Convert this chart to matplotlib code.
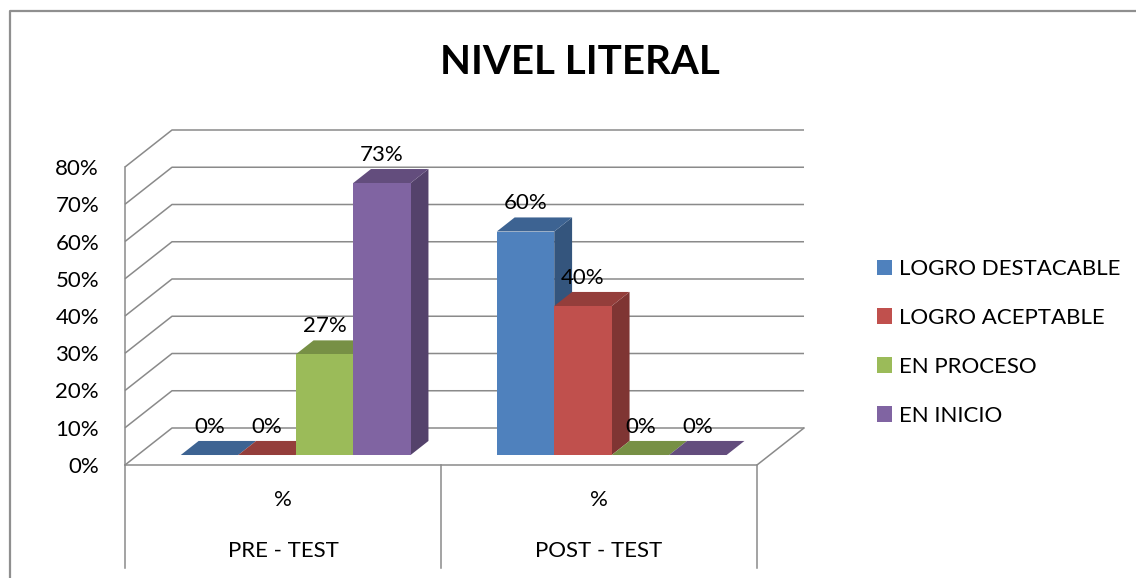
#NIVEL LITERAL - pre/post test, 3D-style clustered columns (Excel look)
import numpy as np
import matplotlib as mpl
mpl.use("Agg")
import matplotlib.pyplot as plt
from matplotlib.patches import Polygon, Patch
from matplotlib.lines import Line2D
from matplotlib.colors import to_rgb

# data
categories = ["PRE - TEST", "POST - TEST"]
sub_label = "%"
series = ["LOGRO DESTACABLE", "LOGRO ACEPTABLE", "EN PROCESO", "EN INICIO"]
pre_test = [0.00, 0.00, 0.27, 0.73]
post_test = [0.60, 0.40, 0.00, 0.00]
yticks = [0.0, 0.1, 0.2, 0.3, 0.4, 0.5, 0.6, 0.7, 0.8]
title = "NIVEL LITERAL"

colors = ['#4F81BD', '#C0504D', '#9BBB59', '#8064A2']

plt.rcParams['font.family'] = ['Lato', 'DejaVu Sans']
fs = 16

W, H = 1136, 578
fig = plt.figure(figsize=(W/100, H/100), dpi=100)
ax = fig.add_axes([0, 0, 1, 1])
ax.set_axis_off()

# front plane: category centre 0 -> px 283, 1 category = 316 px ; value 0 -> py 465, 1.0 = 372.5 px
cat_px, val_px = 316.0, 372.5
x0_px, y0_px = 283.0, 465.0
ax.set_xlim(-x0_px/cat_px, (W - x0_px)/cat_px)
ax.set_ylim(-(H - y0_px)/val_px, y0_px/val_px)

# oblique depth offset (full depth = back wall)
DX = 47.0/cat_px
DY = 37.0/val_px
def proj(x, v, d):
    return (x + d*DX, v + d*DY)

def shade(c, f):
    r, g, b = to_rgb(c)
    return (r*f, g*f, b*f)

grid_c = '#8a8a8a'
lw = 1.1
xl, xr = -0.5, 1.5
vmax = yticks[-1]

# walls / gridlines
for v in yticks:
    pts = [proj(xl, v, 0), proj(xl, v, 1), proj(xr, v, 1)]
    ax.plot(*zip(*pts), color=grid_c, lw=lw, zorder=1, solid_capstyle='butt')
ax.plot(*zip(proj(xl, 0, 0), proj(xl, vmax, 0)), color=grid_c, lw=lw, zorder=1)
# floor
ax.plot(*zip(proj(xl, 0, 0), proj(xr, 0, 0), proj(xr, 0, 1)), color=grid_c, lw=lw, zorder=1)

# category table below floor
tbl_bottom = -(568 - y0_px)/val_px
for xb in [xl, 0.5, xr]:
    ax.plot([xb, xb], [0, tbl_bottom], color=grid_c, lw=lw, zorder=1)

# bars
n = len(series)
bw = 1/5.5
d0, d1 = 0.27, 0.65
for g, vals in enumerate([pre_test, post_test]):
    for i, v in enumerate(vals):
        a = g - n*bw/2 + i*bw
        b = a + bw
        c = colors[i]
        z = 2 + g*10 + i
        side = [proj(b, 0, d0), proj(b, 0, d1), proj(b, v, d1), proj(b, v, d0)]
        top = [proj(a, v, d0), proj(b, v, d0), proj(b, v, d1), proj(a, v, d1)]
        front = [proj(a, 0, d0), proj(b, 0, d0), proj(b, v, d0), proj(a, v, d0)]
        ax.add_patch(Polygon(side, closed=True, fc=shade(c, 0.66), ec='none', zorder=z))
        ax.add_patch(Polygon(top, closed=True, fc=shade(c, 0.77), ec='none', zorder=z))
        if v > 0:
            ax.add_patch(Polygon(front, closed=True, fc=c, ec='none', zorder=z))
        lx, ly = proj((a + b)/2, v, d0)
        ax.annotate(f"{v:.0%}", xy=(lx, proj(0, v, d1)[1]), xytext=(0, 14),
                    textcoords='offset pixels', ha='center', va='center',
                    fontsize=fs, zorder=30)

# value axis labels
for v in yticks:
    ax.annotate(f"{v:.0%}", xy=(xl, v), xytext=(-26, -2), textcoords='offset pixels',
                ha='right', va='center', fontsize=fs)

# category labels
for g, cat in enumerate(categories):
    ax.annotate(sub_label, xy=(g, 0), xytext=(0, -35), textcoords='offset pixels',
                ha='center', va='center', fontsize=fs)
    ax.annotate(cat, xy=(g, 0), xytext=(0, -86), textcoords='offset pixels',
                ha='center', va='center', fontsize=fs)

# title
fig.text(580/W, 1 - 62/H, title, ha='center', va='center', fontsize=29,
         fontweight='bold', family=['Lato', 'DejaVu Sans'])

# legend
handles = [Patch(facecolor=c, edgecolor='none') for c in colors]
fig.legend(handles, series, loc='upper left', bbox_to_anchor=(877/W, 1 - 259/H),
           frameon=False, fontsize=fs, handlelength=0.68, handleheight=0.68,
           handletextpad=0.32, labelspacing=1.30, borderpad=0, borderaxespad=0)

# outer chart border
fig.add_artist(Line2D([10/W, 10/W, 1], [0, 1 - 11/H, 1 - 11/H], transform=fig.transFigure,
                      color='#8f8f8f', lw=1.6))

plt.savefig("out.png", dpi=100)
